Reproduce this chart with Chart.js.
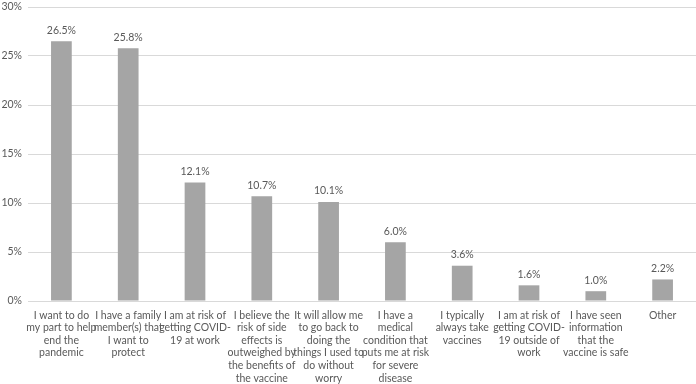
<!DOCTYPE html>
<html>
<head>
<meta charset="utf-8">
<script src="https://cdn.jsdelivr.net/npm/chart.js@4"></script>
<style>
  html, body { margin: 0; padding: 0; background: #fff; }
  #wrap { width: 696px; height: 384px; position: relative; }
</style>
</head>
<body>
<div id="wrap"><canvas id="c"></canvas></div>
<script>
// reasons for getting the vaccine (% of respondents)
const reasonLabels = [
  ["I want to do", "my part to help", "end the", "pandemic"],
  ["I have a family", "member(s) that", "I want to", "protect"],
  ["I am at risk of", "getting COVID-", "19 at work"],
  ["I believe the", "risk of side", "effects is", "outweighed by", "the benefits of", "the vaccine"],
  ["It will allow me", "to go back to", "doing the", "things I used to", "do without", "worry"],
  ["I have a", "medical", "condition that", "puts me at risk", "for severe", "disease"],
  ["I typically", "always take", "vaccines"],
  ["I am at risk of", "getting COVID-", "19 outside of", "work"],
  ["I have seen", "information", "that the", "vaccine is safe"],
  ["Other"]
];
const reasonValues = [26.5, 25.8, 12.1, 10.7, 10.1, 6.0, 3.6, 1.6, 1.0, 2.2];
const yTicks = [0, 5, 10, 15, 20, 25, 30];

const FONT = "Lato, 'Liberation Sans', sans-serif";
const TEXT = "#595959";

// value labels above each bar
const valueLabels = {
  id: "valueLabels",
  afterDatasetsDraw(chart) {
    const ctx = chart.ctx;
    const meta = chart.getDatasetMeta(0);
    ctx.save();
    ctx.font = "10.5px " + FONT;
    ctx.fillStyle = TEXT;
    ctx.textAlign = "center";
    ctx.textBaseline = "middle";
    meta.data.forEach((bar, i) => {
      ctx.fillText(reasonValues[i].toFixed(1) + "%", bar.x, bar.y - 11);
    });
    ctx.restore();
  }
};

new Chart(document.getElementById("c"), {
  type: "bar",
  data: {
    labels: reasonLabels,
    datasets: [{
      data: reasonValues,
      backgroundColor: "#a5a5a5",
      barPercentage: 0.62,
      categoryPercentage: 0.5
    }]
  },
  options: {
    responsive: true,
    maintainAspectRatio: false,
    animation: false,
    layout: { padding: { top: 7, right: 0, left: 0, bottom: 0 } },
    plugins: {
      legend: { display: false },
      tooltip: { enabled: false }
    },
    scales: {
      x: {
        grid: { display: false, drawTicks: false },
        border: { color: "#d9d9d9" },
        ticks: {
          color: TEXT,
          font: { family: FONT, size: 10.5, lineHeight: 1.2 },
          maxRotation: 0,
          autoSkip: false,
          padding: 8
        },
        afterFit(scale) { scale.height = 83; }
      },
      y: {
        min: 0,
        max: 30,
        afterBuildTicks(scale) { scale.ticks = yTicks.map(v => ({ value: v })); },
        grid: { color: "#d9d9d9", drawTicks: false },
        border: { display: false },
        ticks: {
          color: TEXT,
          font: { family: FONT, size: 10.5 },
          padding: 6,
          callback: v => v + "%"
        },
        afterFit(scale) {
          scale.width = 28;
          scale.paddingTop = 0;
          scale.paddingBottom = 0;
        }
      }
    }
  },
  plugins: [valueLabels]
});
</script>
</body>
</html>
